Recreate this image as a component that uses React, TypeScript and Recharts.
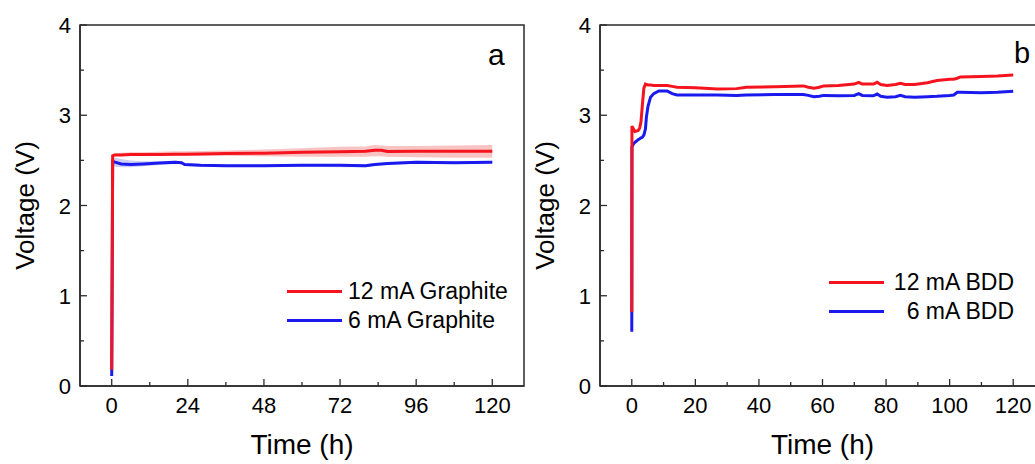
import React from "react"
import { ComposedChart, Line, Area, XAxis, YAxis, ReferenceArea, Legend } from "recharts"

// panel a: graphite anodes (time in h, voltage in V)
const graphiteTime = [0, 0.3, 1, 3, 6, 10, 15, 20, 22, 23, 28, 36, 48, 60, 72, 80, 83, 85, 87, 96, 108, 120]
const graphite12 = [0.18, 2.55, 2.56, 2.56, 2.565, 2.565, 2.565, 2.567, 2.567, 2.567, 2.57, 2.575, 2.58, 2.59, 2.596, 2.6, 2.612, 2.612, 2.598, 2.6, 2.6, 2.6]
const graphite12Low = [null, 2.54, 2.545, 2.55, 2.55, 2.55, 2.55, 2.55, 2.55, 2.55, 2.55, 2.55, 2.545, 2.54, 2.54, 2.54, 2.545, 2.545, 2.54, 2.535, 2.53, 2.53]
const graphite12High = [null, 2.575, 2.58, 2.585, 2.59, 2.59, 2.595, 2.6, 2.6, 2.6, 2.605, 2.61, 2.62, 2.635, 2.65, 2.655, 2.67, 2.665, 2.66, 2.66, 2.665, 2.67]
const graphite6 = [0.11, 2.49, 2.48, 2.46, 2.455, 2.46, 2.47, 2.48, 2.475, 2.455, 2.445, 2.44, 2.44, 2.445, 2.445, 2.44, 2.455, 2.46, 2.465, 2.48, 2.475, 2.48]
const graphite6Low = [null, 2.45, 2.43, 2.425, 2.425, 2.435, 2.45, 2.46, 2.46, 2.44, 2.43, 2.43, 2.43, 2.43, 2.425, 2.425, 2.44, 2.445, 2.45, 2.465, 2.465, 2.47]
const graphite6High = [null, 2.53, 2.53, 2.515, 2.5, 2.49, 2.49, 2.495, 2.49, 2.47, 2.46, 2.455, 2.455, 2.46, 2.46, 2.455, 2.47, 2.475, 2.48, 2.495, 2.49, 2.495]

// panel b: BDD anodes
const bddTime = [0, 0.05, 0.5, 1, 2, 2.5, 2.9, 3.3, 3.8, 4.3, 4.6, 5.1, 5.9, 6.9, 8.5, 11.1, 12.7, 14.2, 20, 27, 33, 36, 45, 54, 55.5, 57.3, 59, 60.4, 65, 70, 71.4, 72.5, 76, 77.2, 78.3, 80.3, 83, 84.5, 86, 89, 93, 96, 100, 101.3, 102.4, 103.4, 110, 115, 120]
const bdd12 = [0.82, 2.88, 2.85, 2.82, 2.83, 2.86, 2.93, 3.1, 3.3, 3.345, 3.34, 3.335, 3.335, 3.33, 3.33, 3.33, 3.32, 3.31, 3.305, 3.29, 3.295, 3.31, 3.315, 3.325, 3.31, 3.3, 3.31, 3.325, 3.33, 3.345, 3.365, 3.345, 3.345, 3.365, 3.34, 3.33, 3.34, 3.355, 3.34, 3.34, 3.36, 3.385, 3.4, 3.4, 3.41, 3.425, 3.43, 3.435, 3.445]
const bdd6 = [0.6, 2.65, 2.68, 2.7, 2.73, 2.74, 2.75, 2.755, 2.78, 2.85, 2.98, 3.1, 3.2, 3.24, 3.27, 3.27, 3.24, 3.225, 3.225, 3.225, 3.22, 3.225, 3.23, 3.23, 3.22, 3.205, 3.21, 3.22, 3.215, 3.22, 3.24, 3.22, 3.215, 3.235, 3.21, 3.2, 3.205, 3.22, 3.205, 3.2, 3.205, 3.21, 3.22, 3.225, 3.255, 3.255, 3.25, 3.255, 3.265]

const graphiteXTicks = [0, 12, 24, 36, 48, 60, 72, 84, 96, 108, 120]
const graphiteXLabels = [0, 24, 48, 72, 96, 120]
const bddXTicks = [0, 10, 20, 30, 40, 50, 60, 70, 80, 90, 100, 110, 120]
const bddXLabels = [0, 20, 40, 60, 80, 100, 120]
const voltTicks = [0, 0.5, 1, 1.5, 2, 2.5, 3, 3.5, 4]
const voltLabels = [0, 1, 2, 3, 4]

const graphiteLegend = ["12 mA Graphite", "6 mA Graphite"]
const bddLegend = ["12 mA BDD", "6 mA BDD"]

const RED = "#f5141e"
const BLUE = "#1a1aef"
const AXIS = "#2b2b2b"
const FONT = '"Liberation Sans", Arial, Helvetica, sans-serif'

const graphiteData = graphiteTime.map((t, i) => ({
  t,
  v12: graphite12[i],
  v6: graphite6[i],
  band12: graphite12Low[i] == null ? null : [graphite12Low[i], graphite12High[i]],
  band6: graphite6Low[i] == null ? null : [graphite6Low[i], graphite6High[i]],
}))

const bddData = bddTime.map((t, i) => ({ t, v12: bdd12[i], v6: bdd6[i] }))

function makeXTick(labels: number[]) {
  return (props: any) => {
    const { x, y, payload } = props
    const major = labels.includes(payload.value)
    return (
      <g>
        <line x1={x} x2={x} y1={y} y2={y - (major ? 7 : 4)} stroke={AXIS} strokeWidth={1.3} />
        {major && (
          <text x={x} y={y + 27} textAnchor="middle" fontSize={22} fill="#000">
            {payload.value}
          </text>
        )}
      </g>
    )
  }
}

const yTick = (props: any) => {
  const { x, y, payload } = props
  const major = voltLabels.includes(payload.value)
  return (
    <g>
      <line x1={x} x2={x + (major ? 7 : 4)} y1={y} y2={y} stroke={AXIS} strokeWidth={1.3} />
      {major && (
        <text x={x - 9} y={y + 8} textAnchor="end" fontSize={22} fill="#000">
          {payload.value}
        </text>
      )}
    </g>
  )
}

function LegendBox({ labels, align }: { labels: string[]; align: "left" | "right" }) {
  const colors = [RED, BLUE]
  return (
    <div style={{ fontFamily: FONT, fontSize: 23, color: "#000" }}>
      {labels.map((l, i) => (
        <div key={l} style={{ display: "flex", alignItems: "center", height: 29, lineHeight: "29px" }}>
          <span style={{ display: "inline-block", width: 55, height: 2.5, background: colors[i] }} />
          <span style={{ display: "inline-block", width: align === "right" ? 124 : "auto", marginLeft: 6, textAlign: align, whiteSpace: "pre" }}>
            {l}
          </span>
        </div>
      ))}
    </div>
  )
}

const xAxisCommon = {
  dataKey: "t",
  type: "number" as const,
  domain: [-10, 130],
  interval: 0,
  tickSize: 0,
  tickMargin: 0,
  tickLine: false,
  height: 78,
  axisLine: { stroke: AXIS, strokeWidth: 1.5 },
  label: { value: "Time (h)", position: "insideBottom", offset: 10, fontSize: 28, fill: "#000" },
}

const yAxisCommon = {
  type: "number" as const,
  domain: [0, 4],
  ticks: voltTicks,
  interval: 0,
  tickSize: 0,
  tickMargin: 0,
  tickLine: false,
  tick: yTick,
  width: 80,
  axisLine: { stroke: AXIS, strokeWidth: 1.5 },
  label: { value: "Voltage (V)", angle: -90, position: "insideLeft", offset: 25, fontSize: 26, fill: "#000", style: { textAnchor: "middle" } },
}

function GraphitePanel() {
  return (
    <ComposedChart width={540} height={464} data={graphiteData} margin={{ top: 25, right: 16, bottom: 0, left: 0 }}>
      <XAxis {...(xAxisCommon as any)} ticks={graphiteXTicks} tick={makeXTick(graphiteXLabels)} />
      <YAxis {...(yAxisCommon as any)} />
      <ReferenceArea x1={-10} x2={130} y1={0} y2={4} fill="none" stroke={AXIS} strokeWidth={1.5} />
      <Area dataKey="band6" type="linear" stroke="none" fill="#6f78e0" fillOpacity={0.35} isAnimationActive={false} />
      <Area dataKey="band12" type="linear" stroke="none" fill="#f07a7a" fillOpacity={0.45} isAnimationActive={false} />
      <Line dataKey="v6" type="linear" stroke={BLUE} strokeWidth={3} dot={false} isAnimationActive={false} />
      <Line dataKey="v12" type="linear" stroke={RED} strokeWidth={3} dot={false} isAnimationActive={false} />
      <Legend
        layout="horizontal"
        verticalAlign="middle"
        align="center"
        wrapperStyle={{ left: 287, top: 277, width: 240 }}
        content={() => <LegendBox labels={graphiteLegend} align="left" />}
      />
    </ComposedChart>
  )
}

function BddPanel() {
  return (
    <ComposedChart width={530} height={464} data={bddData} margin={{ top: 25, right: 5, bottom: 0, left: 0 }}>
      <XAxis {...(xAxisCommon as any)} ticks={bddXTicks} tick={makeXTick(bddXLabels)} />
      <YAxis {...(yAxisCommon as any)} />
      <ReferenceArea x1={-10} x2={130} y1={0} y2={4} fill="none" stroke={AXIS} strokeWidth={1.5} />
      <Line dataKey="v6" type="linear" stroke={BLUE} strokeWidth={3} dot={false} isAnimationActive={false} />
      <Line dataKey="v12" type="linear" stroke={RED} strokeWidth={3} dot={false} isAnimationActive={false} />
      <Legend
        layout="horizontal"
        verticalAlign="middle"
        align="center"
        wrapperStyle={{ left: 309, top: 268, width: 200 }}
        content={() => <LegendBox labels={bddLegend} align="right" />}
      />
    </ComposedChart>
  )
}

export default function App() {
  return (
    <div style={{ position: "absolute", left: 0, top: 0, width: 1035, height: 464, overflow: "hidden", background: "#fff", fontFamily: FONT }}>
      <div style={{ position: "absolute", left: 0, top: 0 }}>
        <GraphitePanel />
      </div>
      <div style={{ position: "absolute", left: 520, top: 0 }}>
        <BddPanel />
      </div>
      <svg width={1035} height={464} style={{ position: "absolute", left: 0, top: 0, pointerEvents: "none" }}>
        <text x={488} y={65} fontSize={30} fill="#000" fontFamily={FONT}>a</text>
        <text x={1014} y={63} fontSize={29} fill="#000" fontFamily={FONT}>b</text>
      </svg>
    </div>
  )
}
